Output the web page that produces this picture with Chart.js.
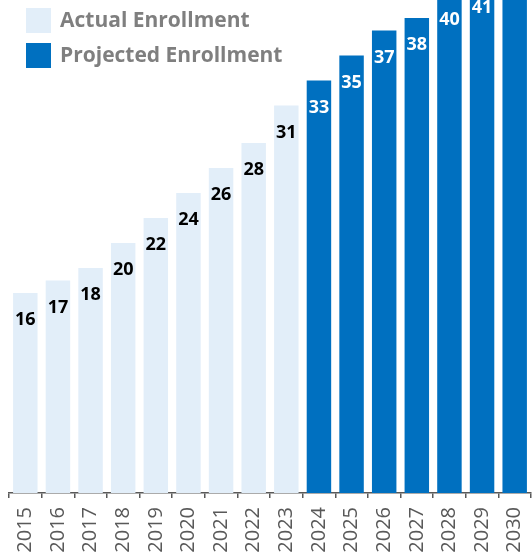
<!DOCTYPE html>
<html>
<head>
<meta charset="utf-8">
<script src="https://cdn.jsdelivr.net/npm/chart.js@4"></script>
<style>
  html, body { margin: 0; padding: 0; background: #fff; overflow: hidden; }
  #wrap { position: relative; width: 532px; height: 553px; }
</style>
</head>
<body>
<div id="wrap"><canvas id="enrollChart" width="532" height="553"></canvas></div>
<script>
const years = ["2015", "2016", "2017", "2018", "2019", "2020", "2021", "2022",
  "2023", "2024", "2025", "2026", "2027", "2028", "2029", "2030"];
const actual = [16, 17, 18, 20, 22, 24, 26, 28, 31];
const projected = [33, 35, 37, 38, 40, 41, 43];

const lightBlue = "#E2EEF9";
const darkBlue = "#0070C0";

// pad each series with nulls so both share the same year axis
const actualData = years.map((_, i) => i < actual.length ? actual[i] : null);
const projectedData = years.map((_, i) => i >= actual.length ? projected[i - actual.length] : null);

const labelFont = "bold 18px 'Open Sans'";

const valueLabels = {
  id: "valueLabels",
  afterDatasetsDraw(chart) {
    const c = chart.ctx;
    c.save();
    c.font = labelFont;
    c.textAlign = "center";
    c.textBaseline = "middle";
    chart.data.datasets.forEach((ds, di) => {
      const meta = chart.getDatasetMeta(di);
      c.fillStyle = di === 0 ? "#000" : "#fff";
      meta.data.forEach((bar, i) => {
        if (ds.data[i] == null) return;
        c.fillText(String(ds.data[i]), bar.x, bar.y + 27);
      });
    });
    c.restore();
  }
};

const sideLegend = {
  id: "sideLegend",
  afterDraw(chart) {
    const c = chart.ctx;
    c.save();
    c.font = "bold 21px 'Open Sans'";
    c.textBaseline = "middle";
    chart.data.datasets.forEach((ds, i) => {
      const y = 8 + i * 35;
      c.fillStyle = ds.backgroundColor;
      c.fillRect(26, y, 25, 25);
      c.fillStyle = "#7f7f7f";
      c.fillText(ds.label, 60, y + 13);
    });
    c.restore();
  }
};

new Chart(document.getElementById("enrollChart"), {
  type: "bar",
  data: {
    labels: years,
    datasets: [
      {
        label: "Actual Enrollment",
        data: actualData,
        backgroundColor: lightBlue,
        barPercentage: 0.75,
        categoryPercentage: 1,
        clip: false
      },
      {
        label: "Projected Enrollment",
        data: projectedData,
        backgroundColor: darkBlue,
        barPercentage: 0.75,
        categoryPercentage: 1,
        clip: false
      }
    ]
  },
  options: {
    responsive: false,
    animation: false,
    layout: { padding: { left: 9, right: 1, top: 0, bottom: 0 } },
    scales: {
      x: {
        stacked: true,
        afterFit(scale) {
          scale.height = 60;
          scale.paddingLeft = 0;
          scale.paddingRight = 0;
        },
        grid: {
          drawOnChartArea: false,
          drawTicks: true,
          tickLength: 5,
          color: "#595959",
          lineWidth: 1.5
        },
        border: { color: "#595959", width: 1.5 },
        ticks: {
          color: "#595959",
          font: { family: "'Open Sans'", size: 20 },
          minRotation: 90,
          maxRotation: 90,
          autoSkip: false,
          padding: 9
        }
      },
      y: {
        stacked: true,
        display: false,
        min: 0,
        max: 39.44
      }
    },
    plugins: {
      legend: { display: false },
      tooltip: { enabled: false }
    }
  },
  plugins: [valueLabels, sideLegend]
});
</script>
</body>
</html>
